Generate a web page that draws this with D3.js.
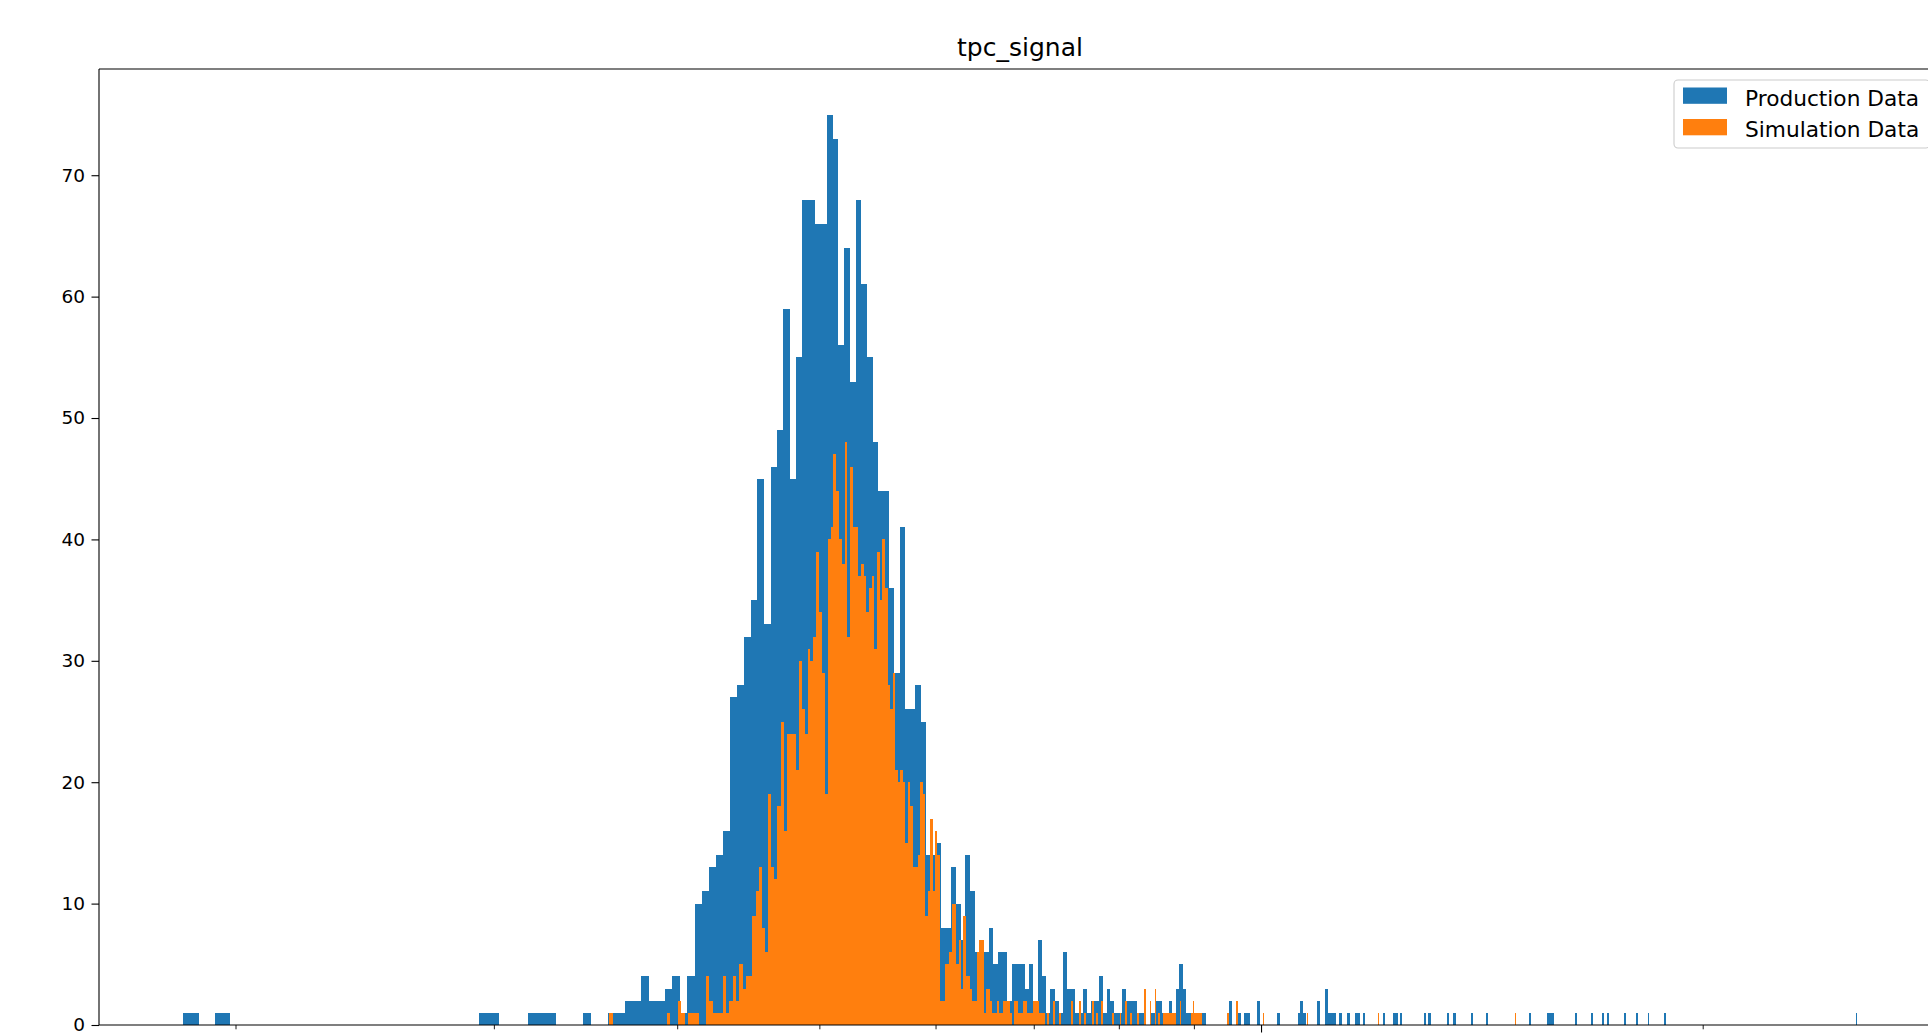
<!DOCTYPE html>
<html>
<head>
<meta charset="utf-8">
<script src="https://cdn.jsdelivr.net/npm/d3@7"></script>
<style>
  html, body { margin: 0; padding: 0; background: #ffffff; }
  svg { display: block; }
  text { font-family: "DejaVu Sans", sans-serif; }
</style>
</head>
<body>
<div id="chart"></div>
<script>
// ---------------- DATA ----------------
const chartTitle = "tpc_signal";
const seriesNames = ["Production Data", "Simulation Data"];
const seriesColors = ["#1f77b4", "#ff7f0e"];

// Production histogram: 500 equal bins starting at prodMin with width prodBinWidth
const prodMin = 18.41;
const prodBinWidth = 0.473;
const prodBinCount = 500;
const prodBinIdx = [0,2,23,24,28,29,30,34,
  37,38,39,40,41,42,43,44,45,46,47,48,49,50,51,52,53,54,55,56,57,58,59,60,61,62,63,64,65,66,
  67,68,69,70,71,72,73,74,75,76,77,78,79,80,81,82,83,84,85,86,87,88,89,90,91,92,93,94,95,96,
  97,98,99,100,101,102,103,104,105,106,107,108,109,110,111,112,113,114,115,116,117,118,119,120,
  121,122,123,124,125,126,127,128,129,130,131,132,133,134,135,136,
  139,140,141,142,143,144,145,146,147,148,149,150,151,152,153,154,162,165,167,168,171,178,
  185,186,187,192,195,196,197,198,200,203,206,207,209,217,221,222,224,234,236,244,247,255,262,
  283,292,293,294,295,307,316,322,325,335,342,349,359,499];
const prodCounts = [1,1,1,1,1,1,1,1,
  1,1,2,2,4,2,2,3,4,1,4,10,11,13,14,16,27,28,32,35,45,33,46,49,59,45,55,68,68,66,
  66,75,73,56,64,53,68,61,55,48,44,44,36,29,41,26,26,28,25,14,14,15,8,8,13,10,7,14,11,6,
  6,6,8,5,6,6,2,5,5,5,3,5,2,7,4,1,3,2,1,6,3,3,1,1,
  3,1,2,2,4,1,3,2,1,1,3,2,2,2,1,1,
  1,2,2,1,1,2,1,3,5,3,1,1,1,1,1,1,2,1,1,1,2,1,
  1,2,1,2,3,1,1,1,1,1,1,1,1,1,1,1,1,1,1,1,1,1,1,
  1,1,1,1,1,1,1,1,1,1,1,1,1,1];

// Simulation histogram: 500 equal bins starting at simMin with width simBinWidth
const simMin = 35.95;
const simBinWidth = 0.2264;
const simBinCount = 500;
const simBinIdx = [0,15,18,19,21,22,23,26,27,28,29,30,31,32,33,34,35,36,37,38,39,40,
  41,42,43,44,45,46,47,48,49,50,51,52,53,54,55,56,57,58,59,60,61,62,63,64,65,66,67,68,69,70,
  71,72,73,74,75,76,77,78,79,80,81,82,83,84,85,86,87,88,89,90,91,92,93,94,95,96,97,98,99,100,
  101,102,103,104,105,106,107,108,109,110,111,112,113,114,115,116,117,118,119,120,
  121,122,123,124,125,126,127,128,129,130,131,132,133,134,135,136,137,138,139,141,142,143,144,
  145,146,147,148,149,150,151,152,153,154,155,157,160,163,169,173,176,180,182,185,191,195,198,
  201,205,209,212,215,217,220,221,222,223,224,225,226,227,230,237,238,239,240,241,242,243,
  260,266,284,316,372,499];
const simCounts = [1,1,2,1,1,1,1,4,2,1,1,1,4,1,2,4,2,5,3,4,4,9,
  11,13,8,6,19,13,12,18,25,16,24,24,24,21,30,26,24,31,30,32,39,34,29,19,40,41,47,44,40,38,
  48,32,46,41,41,37,38,37,34,36,37,31,39,35,40,36,28,26,29,21,20,21,20,15,20,18,13,13,14,20,
  19,9,11,17,11,16,14,2,2,5,5,6,10,10,5,7,3,9,4,4,
  3,2,2,6,7,7,1,3,3,2,1,1,2,1,1,2,2,2,1,2,2,1,1,
  2,2,1,1,1,2,2,2,1,1,1,1,2,1,2,2,1,2,1,2,1,1,2,
  1,1,3,2,3,1,1,1,1,1,1,1,1,1,2,1,2,1,1,1,1,1,
  1,2,1,1,1,1];

const yTicks = [0, 10, 20, 30, 40, 50, 60, 70];
const xMajorTicks = [100];
const xMinorTicks = [20, 30, 40, 50, 60, 70, 80, 90, 200];

// ---------------- LAYOUT ----------------
const W = 1928, H = 1033;
const axLeft = 99, axRight = 1941, axTop = 69, axBottom = 1025;

const svg = d3.select("#chart").append("svg")
  .attr("width", W).attr("height", H)
  .attr("viewBox", `0 0 ${W} ${H}`);

function makeBins(minV, width, idx, counts) {
  return idx.map((k, n) => ({ x0: minV + k * width, x1: minV + (k + 1) * width, c: counts[n] }));
}
const prodBins = makeBins(prodMin, prodBinWidth, prodBinIdx, prodCounts);
const simBins = makeBins(simMin, simBinWidth, simBinIdx, simCounts);

// x: log scale with 5% log-space margins around the full bin range
const xLo = Math.min(prodMin, simMin);
const xHi = Math.max(prodMin + prodBinCount * prodBinWidth, simMin + simBinCount * simBinWidth);
const lr = Math.log10(xHi / xLo);
const x = d3.scaleLog()
  .domain([xLo / Math.pow(10, 0.05 * lr), xHi * Math.pow(10, 0.05 * lr)])
  .range([axLeft, axRight]);

const yMax = d3.max(prodCounts.concat(simCounts)) * 1.05;
const y = d3.scaleLinear().domain([0, yMax]).range([axBottom, axTop]);

svg.append("clipPath").attr("id", "axclip")
  .append("rect").attr("x", axLeft).attr("y", axTop)
  .attr("width", axRight - axLeft).attr("height", axBottom - axTop);

const plot = svg.append("g").attr("clip-path", "url(#axclip)");

function drawBars(bins, color, cls) {
  plot.append("g").attr("class", cls)
    .attr("shape-rendering", "crispEdges")
    .selectAll("rect").data(bins).join("rect")
    .attr("x", d => x(d.x0))
    .attr("width", d => Math.max(1, x(d.x1) - x(d.x0)))
    .attr("y", d => y(d.c))
    .attr("height", d => y(0) - y(d.c))
    .attr("fill", color);
}
drawBars(prodBins, seriesColors[0], "prod");
drawBars(simBins, seriesColors[1], "sim");

// y axis
const yAxis = d3.axisLeft(y).tickValues(yTicks).tickSize(7.5).tickPadding(6.5)
  .tickFormat(d3.format("d"));
const gy = svg.append("g").attr("transform", `translate(${axLeft},0)`).call(yAxis);
gy.select(".domain").remove();
gy.selectAll(".tick line").attr("stroke", "#000").attr("stroke-width", 1.1);
gy.selectAll(".tick text").attr("font-size", "18.5px").attr("fill", "#000")
  .attr("font-family", "DejaVu Sans, sans-serif");

// x axis ticks (their labels fall below the visible window in the reference)
const gxMaj = svg.append("g").attr("transform", `translate(0,${axBottom})`)
  .call(d3.axisBottom(x).tickValues(xMajorTicks).tickSize(7.5).tickFormat(""));
gxMaj.select(".domain").remove();
gxMaj.selectAll(".tick line").attr("stroke", "#000").attr("stroke-width", 1.1);
const gxMin = svg.append("g").attr("transform", `translate(0,${axBottom})`)
  .call(d3.axisBottom(x).tickValues(xMinorTicks).tickSize(4.3).tickFormat(""));
gxMin.select(".domain").remove();
gxMin.selectAll(".tick line").attr("stroke", "#000").attr("stroke-width", 0.9);

// spines
const spine = svg.append("g").attr("stroke", "#000").attr("stroke-width", 1.1).attr("fill", "none");
spine.append("line").attr("x1", axLeft).attr("x2", axLeft).attr("y1", axTop).attr("y2", axBottom);
spine.append("line").attr("x1", axLeft).attr("x2", axRight).attr("y1", axBottom).attr("y2", axBottom);
spine.append("line").attr("x1", axLeft).attr("x2", axRight).attr("y1", axTop).attr("y2", axTop);
spine.append("line").attr("x1", axRight).attr("x2", axRight).attr("y1", axTop).attr("y2", axBottom);

// title
svg.append("text")
  .attr("x", (axLeft + axRight) / 2).attr("y", 56)
  .attr("text-anchor", "middle")
  .attr("font-size", "25px").attr("fill", "#000")
  .text(chartTitle);

// legend
const lg = svg.append("g").attr("class", "legend");
lg.append("rect")
  .attr("x", 1674).attr("y", 80).attr("width", 256).attr("height", 68)
  .attr("rx", 4).attr("ry", 4)
  .attr("fill", "#fff").attr("fill-opacity", 0.8)
  .attr("stroke", "#cccccc").attr("stroke-width", 1.1);
seriesNames.forEach((name, i) => {
  const rowY = 87.5 + i * 31.5;
  lg.append("rect")
    .attr("x", 1683).attr("y", rowY).attr("width", 44).attr("height", 16.3)
    .attr("fill", seriesColors[i]);
  lg.append("text")
    .attr("x", 1745).attr("y", rowY + 18)
    .attr("font-size", "21.7px").attr("fill", "#000")
    .text(name);
});
</script>
</body>
</html>
